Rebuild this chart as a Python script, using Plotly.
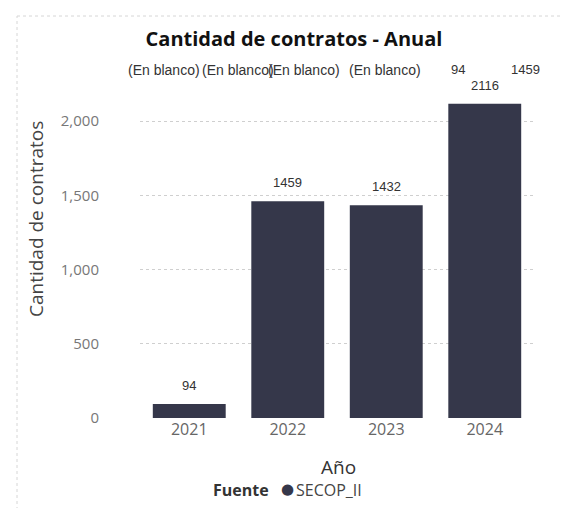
import plotly.graph_objects as go

years = ["2021", "2022", "2023", "2024"]
contratos = [94, 1459, 1432, 2116]
top_labels = ["(En blanco)", "(En blanco)", "(En blanco)", "(En blanco)", "94", "1459"]
y_ticks = [0, 500, 1000, 1500, 2000]
y_ticktext = ["0", "500", "1,000", "1,500", "2,000"]
legend_title = "Fuente"
legend_name = "SECOP_II"

BAR = "#35374a"
W, H = 568, 508
L, R, T, B = 132, 42, 68, 98
pw, ph = W - L - R, H - T - B

def px(x):
    return (x - L) / pw

def py(y):
    return (H - B - y) / ph

fig = go.Figure()
fig.add_trace(go.Bar(x=years, y=contratos, name=legend_name,
                     marker=dict(color=BAR, line=dict(width=0)),
                     showlegend=False, hoverinfo="x+y"))

# value labels above bars (x given as category index on the category axis)
for i, v in enumerate(contratos):
    fig.add_annotation(x=i, y=v, xref="x", yref="y", text=str(v), showarrow=False,
                       yanchor="bottom", yshift=9,
                       font=dict(family="Liberation Sans, Arial", size=13, color="#333"))

# stray top labels row
top_x = [156, 230, 296, 377, 450, 517]
top_sizes = [14, 14, 14, 14, 13, 13]
for t, xx, fs in zip(top_labels, top_x, top_sizes):
    fig.add_annotation(x=px(xx), y=py(62), xref="paper", yref="paper", text=t, showarrow=False,
                       xanchor="center", yanchor="middle", bgcolor="rgba(0,0,0,0)",
                       font=dict(family="Liberation Sans, Arial", size=fs, color="#333"))

# axis titles
fig.add_annotation(x=px(28), y=py(211), xref="paper", yref="paper", text="Cantidad de contratos",
                   textangle=-90, showarrow=False, xanchor="center", yanchor="middle",
                   font=dict(family="Open Sans", size=19, color="#444"))
fig.add_annotation(x=px(330), y=py(459), xref="paper", yref="paper", text="Año",
                   showarrow=False, xanchor="center", yanchor="middle",
                   font=dict(family="Open Sans", size=19, color="#333"))

# legend (drawn as text so spacing matches)
fig.add_annotation(x=px(203), y=py(482), xref="paper", yref="paper",
                   text=f"<b>{legend_title}</b>", showarrow=False, xanchor="left", yanchor="middle",
                   font=dict(family="Open Sans", size=16, color="#333"))
fig.add_annotation(x=px(279), y=py(481), xref="paper", yref="paper",
                   text="●", showarrow=False, xanchor="center", yanchor="middle",
                   font=dict(family="DejaVu Sans", size=15, color=BAR))
fig.add_annotation(x=px(286), y=py(482), xref="paper", yref="paper",
                   text=legend_name, showarrow=False, xanchor="left", yanchor="middle",
                   font=dict(family="Open Sans", size=16, color="#444"))

# frame
frame = dict(color="#d6d6d6", width=1, dash="dot")
fig.add_shape(type="line", xref="paper", yref="paper", x0=px(9), x1=px(9), y0=py(508), y1=py(8), line=frame)
fig.add_shape(type="line", xref="paper", yref="paper", x0=px(562), x1=px(562), y0=py(508), y1=py(8), line=frame)
fig.add_shape(type="line", xref="paper", yref="paper", x0=px(9), x1=px(562), y0=py(8), y1=py(8), line=frame)

fig.update_layout(
    width=W, height=H,
    margin=dict(l=L, r=R, t=T, b=B, autoexpand=False),
    paper_bgcolor="white", plot_bgcolor="white",
    title=dict(text="<b>Cantidad de contratos - Anual</b>", x=286 / W, xref="container",
               xanchor="center", y=1 - 31 / H, yanchor="middle",
               font=dict(family="Open Sans", size=20, color="#111")),
    bargap=0.26,
    showlegend=False,
    xaxis=dict(type="category", range=[-0.5, len(years) - 0.5], showgrid=False, showline=False,
               zeroline=False, ticks="",
               tickfont=dict(family="Open Sans", size=16, color="#666")),
    yaxis=dict(range=[0, 2303], tickvals=y_ticks, ticktext=y_ticktext, showgrid=True,
               gridcolor="#cfcfcf", griddash="dot", gridwidth=1, zeroline=False, showline=False,
               ticks="", ticklabelstandoff=40,
               tickfont=dict(family="Open Sans", size=15, color="#777")),
)

fig.write_html("out.html")
